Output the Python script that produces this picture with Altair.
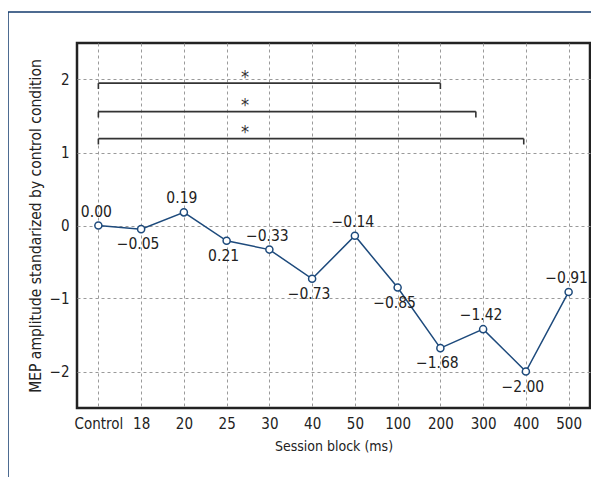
import json
import altair as alt
import pandas as pd

categories = ["Control", "18", "20", "25", "30", "40", "50", "100", "200", "300", "400", "500"]
values = [0.00, -0.05, 0.18, -0.21, -0.33, -0.73, -0.14, -0.85, -1.68, -1.42, -2.00, -0.91]
labels = ["0.00", "−0.05", "0.19", "0.21", "−0.33", "−0.73", "−0.14", "−0.85", "−1.68", "−1.42", "−2.00", "−0.91"]
label_side = ["above", "below", "above", "below", "above", "below", "above", "below", "below", "above", "below", "above"]

bracket_y = [1.95, 1.56, 1.19]
bracket_end = [8.0, 8.83, 9.95]
star_x = 3.43

FONT = "Liberation Sans Narrow, DejaVu Sans Condensed, sans-serif"
NAVY = "#123a6d"
LINE = "#1d4a7c"

df = pd.DataFrame({
    "idx": list(range(len(categories))),
    "cat": categories,
    "val": values,
    "lab": labels,
    "side": label_side,
})
br = pd.DataFrame({"y": bracket_y, "x0": [0.0] * 3, "x1": bracket_end})
br["ytick"] = br["y"] - 0.08
br["ystar"] = br["y"] + 0.13
br["xstar"] = star_x
br["star"] = "*"

label_expr = json.dumps(categories) + "[datum.value]"

xscale = alt.Scale(domain=[-0.5, 11.5], nice=False, zero=False)
yscale = alt.Scale(domain=[-2.5, 2.5], nice=False, zero=False)

xaxis = alt.Axis(values=list(range(len(categories))), labelExpr=label_expr,
                 title="Session block (ms)", grid=True, ticks=False, domain=False,
                 labelPadding=8, titlePadding=8, titleFontSize=14, labelFontSize=15)
yaxis = alt.Axis(values=[-2, -1, 0, 1, 2], labelExpr="datum.value < 0 ? '−' + abs(datum.value) : datum.value",
                 title="MEP amplitude standarized by control condition", grid=True,
                 ticks=False, domain=False, labelPadding=8, titlePadding=6,
                 titleFontSize=15.5, labelFontSize=15)

base = alt.Chart(df)
line = base.mark_line(color=LINE, strokeWidth=1.5).encode(
    x=alt.X("idx:Q", scale=xscale, axis=xaxis),
    y=alt.Y("val:Q", scale=yscale, axis=yaxis),
)
pts = base.mark_point(shape="circle", filled=True, fill="white", stroke=LINE,
                      strokeWidth=1.5, size=50, opacity=1).encode(
    x="idx:Q", y="val:Q")
txt_above = base.transform_filter(alt.datum.side == "above").mark_text(
    dy=-14, dx=-2, fontSize=15.5, font=FONT, color="#222").encode(x="idx:Q", y="val:Q", text="lab:N")
txt_below = base.transform_filter(alt.datum.side == "below").mark_text(
    dy=15, dx=-3, fontSize=15.5, font=FONT, color="#222").encode(x="idx:Q", y="val:Q", text="lab:N")

bbase = alt.Chart(br)
hlines = bbase.mark_rule(color="#333", strokeWidth=1.6).encode(x="x0:Q", x2="x1:Q", y="y:Q")
ltick = bbase.mark_rule(color="#333", strokeWidth=1.6).encode(x="x0:Q", y="y:Q", y2="ytick:Q")
rtick = bbase.mark_rule(color="#333", strokeWidth=1.6).encode(x="x1:Q", y="y:Q", y2="ytick:Q")
stars = bbase.mark_text(fontSize=18, font=FONT, color="#333", baseline="middle", dy=4).encode(
    x="xstar:Q", y="ystar:Q", text="star:N")

one = pd.DataFrame({"a": [0]})
border_top = alt.Chart(one).mark_rule(color=NAVY, strokeWidth=1.5).encode(
    x=alt.value(-69), x2=alt.value(520), y=alt.value(-31))
border_left = alt.Chart(one).mark_rule(color=NAVY, strokeWidth=1.5).encode(
    x=alt.value(-69), y=alt.value(-31), y2=alt.value(440))

chart = alt.layer(
    border_top, border_left, hlines, ltick, rtick, stars, line, pts, txt_above, txt_below
).properties(
    width=513, height=365,
    autosize=alt.AutoSizeParams(type="none"),
    padding={"left": 69, "top": 35, "right": 1, "bottom": 69},
    background="white",
).configure_view(
    stroke="#222", strokeWidth=2.5
).configure_axis(
    gridColor="#9a9a9a", gridDash=[3, 3], gridWidth=1,
    labelFont=FONT, titleFont=FONT,
    labelColor="#222", titleColor="#222", titleFontWeight="normal",
)

chart.save("out.html", embed_options={"renderer": "svg", "actions": False})
